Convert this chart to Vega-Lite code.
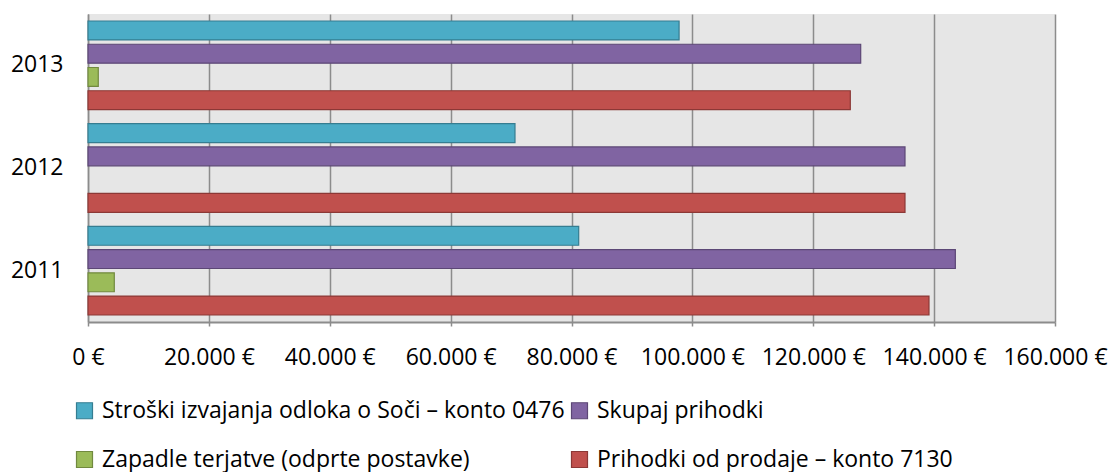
{
  "$schema": "https://vega.github.io/schema/vega-lite/v6.json",
  "width": 967,
  "height": 308,
  "autosize": "none",
  "padding": {"left": 88, "top": 14, "right": 57, "bottom": 150},
  "background": "white",
  "config": {
    "font": "Open Sans",
    "view": {"stroke": null, "fill": "#e6e6e6"},
    "axis": {"labelColor": "#000000", "labelFont": "Open Sans"},
    "legend": {"labelColor": "#000000", "labelFont": "Open Sans"}
  },
  "data": {
    "values": [
      {"year": "2013", "series": "Stroški izvajanja odloka o Soči – konto 0476", "value": 97800},
      {"year": "2013", "series": "Skupaj prihodki", "value": 127850},
      {"year": "2013", "series": "Zapadle terjatve (odprte postavke)", "value": 1700},
      {"year": "2013", "series": "Prihodki od prodaje – konto 7130", "value": 126130},
      {"year": "2012", "series": "Stroški izvajanja odloka o Soči – konto 0476", "value": 70650},
      {"year": "2012", "series": "Skupaj prihodki", "value": 135180},
      {"year": "2012", "series": "Prihodki od prodaje – konto 7130", "value": 135180},
      {"year": "2011", "series": "Stroški izvajanja odloka o Soči – konto 0476", "value": 81190},
      {"year": "2011", "series": "Skupaj prihodki", "value": 143510},
      {"year": "2011", "series": "Zapadle terjatve (odprte postavke)", "value": 4350},
      {"year": "2011", "series": "Prihodki od prodaje – konto 7130", "value": 139150}
    ]
  },
  "mark": {"type": "bar", "strokeWidth": 1.2},
  "encoding": {
    "y": {
      "field": "year",
      "type": "nominal",
      "sort": ["2013", "2012", "2011"],
      "scale": {"paddingInner": 0, "paddingOuter": 0},
      "axis": {
        "title": null,
        "labelFontSize": 23,
        "labelPadding": 25,
        "ticks": false,
        "grid": false,
        "domainColor": "#8c8c8c",
        "domainWidth": 1.5
      }
    },
    "yOffset": {
      "field": "series",
      "type": "nominal",
      "sort": [
        "Stroški izvajanja odloka o Soči – konto 0476",
        "Skupaj prihodki",
        "Zapadle terjatve (odprte postavke)",
        "Prihodki od prodaje – konto 7130"
      ],
      "scale": {
        "domain": [
          "Stroški izvajanja odloka o Soči – konto 0476",
          "Skupaj prihodki",
          "Zapadle terjatve (odprte postavke)",
          "Prihodki od prodaje – konto 7130"
        ],
        "paddingInner": 0.185,
        "paddingOuter": 0.3
      }
    },
    "x": {
      "field": "value",
      "type": "quantitative",
      "scale": {"domain": [0, 160000], "nice": false},
      "axis": {
        "title": null,
        "values": [0, 20000, 40000, 60000, 80000, 100000, 120000, 140000, 160000],
        "labelExpr": "replace(format(datum.value, ',d'), ',', '.') + ' €'",
        "labelFontSize": 23,
        "labelBaseline": "middle",
        "labelPadding": 31,
        "labelFlush": false,
        "labelOverlap": false,
        "labelBound": false,
        "tickSize": 4,
        "tickColor": "#8c8c8c",
        "tickWidth": 1.5,
        "gridColor": "#8c8c8c",
        "gridWidth": 1.5,
        "domainColor": "#8c8c8c",
        "domainWidth": 2
      }
    },
    "color": {
      "field": "series",
      "type": "nominal",
      "scale": {
        "domain": [
          "Stroški izvajanja odloka o Soči – konto 0476",
          "Skupaj prihodki",
          "Zapadle terjatve (odprte postavke)",
          "Prihodki od prodaje – konto 7130"
        ],
        "range": ["#4bacc6", "#8064a2", "#9bbb59", "#c0504d"]
      },
      "legend": {
        "title": null,
        "orient": "none",
        "direction": "horizontal",
        "legendX": -15,
        "legendY": 385,
        "columns": 2,
        "columnPadding": 3,
        "rowPadding": 25,
        "labelFontSize": 23,
        "labelLimit": 800,
        "symbolType": "square",
        "symbolSize": 256,
        "symbolStrokeWidth": 1.2,
        "labelOffset": 6
      }
    },
    "stroke": {
      "field": "series",
      "type": "nominal",
      "scale": {
        "domain": [
          "Stroški izvajanja odloka o Soči – konto 0476",
          "Skupaj prihodki",
          "Zapadle terjatve (odprte postavke)",
          "Prihodki od prodaje – konto 7130"
        ],
        "range": ["#357d91", "#5c4776", "#71893f", "#8c3836"]
      },
      "legend": {
        "title": null,
        "orient": "none",
        "direction": "horizontal",
        "legendX": -15,
        "legendY": 385,
        "columns": 2,
        "columnPadding": 3,
        "rowPadding": 25,
        "labelFontSize": 23,
        "labelLimit": 800,
        "symbolType": "square",
        "symbolSize": 256,
        "symbolStrokeWidth": 1.2,
        "labelOffset": 6
      }
    }
  }
}
